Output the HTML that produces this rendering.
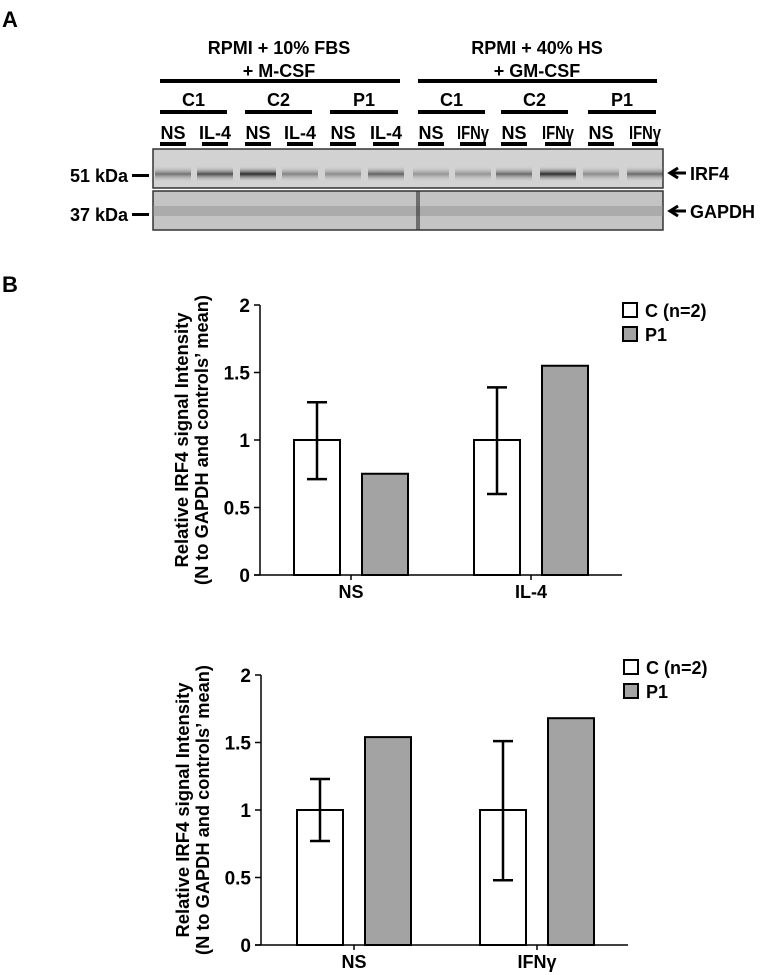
<!DOCTYPE html>
<html><head><meta charset="utf-8">
<style>
html,body{margin:0;padding:0;background:#fff;}
svg{display:block;font-family:"Liberation Sans",Arial,sans-serif;font-weight:bold;}
</style></head>
<body>
<svg id="fig" width="762" height="975" viewBox="0 0 762 975" xmlns="http://www.w3.org/2000/svg">
<defs>
<linearGradient id="band" x1="0" y1="0" x2="0" y2="1">
<stop offset="0" stop-color="#cfcfcf" stop-opacity="0"/>
<stop offset="0.5" stop-color="#222" stop-opacity="1"/>
<stop offset="1" stop-color="#cfcfcf" stop-opacity="0"/>
</linearGradient>
</defs>
<text x="2" y="27" font-size="22">A</text>
<text x="279" y="54" font-size="18" text-anchor="middle">RPMI + 10% FBS</text>
<text x="279" y="77" font-size="18" text-anchor="middle">+ M-CSF</text>
<text x="537" y="54" font-size="18" text-anchor="middle">RPMI + 40% HS</text>
<text x="537" y="77" font-size="18" text-anchor="middle">+ GM-CSF</text>
<rect x="160" y="79" width="240" height="4" fill="#000"/>
<rect x="418" y="79" width="239" height="4" fill="#000"/>
<g id="subgroups"></g>
<g id="lanes"></g>
<rect x="153" y="149" width="510" height="39" fill="#d2d2d2" stroke="#333" stroke-width="1.5"/>
<g id="bands1"></g>
<rect x="153" y="191" width="510" height="39" fill="#c4c4c4" stroke="#333" stroke-width="1.5"/>
<rect x="153" y="206" width="510" height="10" fill="#888" opacity="0.4"/>
<rect x="416" y="191" width="4" height="39" fill="#333" opacity="0.6"/>
<text x="128" y="182" font-size="18" text-anchor="end">51 kDa</text>
<rect x="132" y="174" width="17" height="3" fill="#000"/>
<text x="128" y="221" font-size="18" text-anchor="end">37 kDa</text>
<rect x="132" y="213" width="17" height="3" fill="#000"/>
<path d="M686,173H672M678,168L670,173L678,178" stroke="#000" stroke-width="3" fill="none"/>
<text x="690" y="180" font-size="18">IRF4</text>
<path d="M686,211H672M678,206L670,211L678,216" stroke="#000" stroke-width="3" fill="none"/>
<text x="690" y="218" font-size="18">GAPDH</text>
<text x="2" y="292" font-size="22">B</text>
<g id="chart1"></g>
<g id="chart2"></g>
</svg>
<script>
const NS='http://www.w3.org/2000/svg';
const subLabels=['C1','C2','P1','C1','C2','P1'];
const subX=[[160,227],[245,312],[330,398],[418,485],[501,568],[588,656]];
const laneLabels=['NS','IL-4','NS','IL-4','NS','IL-4','NS','IFNγ','NS','IFNγ','NS','IFNγ'];
const laneX=[173,215,258,300,343,386,431,473,514,558,601,645];
const bandIntensity=[0.55,0.75,0.95,0.45,0.4,0.65,0.35,0.35,0.6,0.95,0.4,0.6];

function mk(tag,attrs,parent,text){const e=document.createElementNS(NS,tag);for(const k in attrs)e.setAttribute(k,attrs[k]);if(text!==undefined)e.textContent=text;parent.appendChild(e);return e;}
const sg=document.getElementById('subgroups');
subLabels.forEach((l,i)=>{
  const t=mk('text',{x:(subX[i][0]+subX[i][1])/2,y:106,'font-size':18,'text-anchor':'middle'},sg,l);
  
  
  const r=mk('rect',{x:subX[i][0],y:110,width:subX[i][1]-subX[i][0],height:4,fill:'#000'},sg);
  
  
});
const lg=document.getElementById('lanes');
laneLabels.forEach((l,i)=>{
  const t=mk('text',{x:laneX[i],y:139,'font-size':18,'text-anchor':'middle','textLength':l.length>2?32:25,'lengthAdjust':'spacingAndGlyphs'},lg,l);
  
  
  const r=mk('rect',{x:laneX[i]-13,y:142,width:26,height:4,fill:'#000'},lg);
  
  
});
const bg=document.getElementById('bands1');
bandIntensity.forEach((v,i)=>{
  const r=mk('rect',{x:laneX[i]-18,y:166,width:36,height:16,fill:'url(#band)',opacity:v},bg);
  
  
});

// chart data
const cats1=['NS','IL-4'];
const ctrl1=[1,1];
const ctrlHi1=[1.28,1.39];
const ctrlLo1=[0.71,0.60];
const p1_1=[0.75,1.55];
const cats2=['NS','IFNγ'];
const ctrl2=[1,1];
const ctrlHi2=[1.23,1.51];
const ctrlLo2=[0.77,0.48];
const p1_2=[1.54,1.68];
const yTicks=[0,0.5,1,1.5,2];
const yTickLabels=['0','0.5','1','1.5','2'];
const legendLabels=['C (n=2)','P1'];

function chart(gid,cfg,cats,ctrl,hi,lo,p1){
  const g=document.getElementById(gid);
  const y=v=>cfg.y0-(v/2)*(cfg.y0-cfg.y2);
  const ax=mk('line',{x1:cfg.ax,y1:cfg.y2,x2:cfg.ax,y2:cfg.y0,stroke:'#000','stroke-width':1.5},g);
  
  
  const xa=mk('line',{x1:cfg.ax-6,y1:cfg.y0,x2:cfg.xend,y2:cfg.y0,stroke:'#000','stroke-width':1.5},g);
  
  
  yTicks.forEach((t,i)=>{
    const l=mk('line',{x1:cfg.ax-6,y1:y(t),x2:cfg.ax,y2:y(t),stroke:'#000','stroke-width':1.5},g);
    
    
    const tx=mk('text',{x:cfg.ax-10,y:y(t)+7,'font-size':19,'text-anchor':'end'},g,yTickLabels[i]);
    
    
  });
  const bw=46;
  cats.forEach((c,i)=>{
    const cx=cfg.centers[i];
    const b1=mk('rect',{x:cx-57,y:y(ctrl[i]),width:bw,height:cfg.y0-y(ctrl[i]),fill:'#fff',stroke:'#000','stroke-width':2},g);
    
    
    const b2=mk('rect',{x:cx+11,y:y(p1[i]),width:bw,height:cfg.y0-y(p1[i]),fill:'#a3a3a3',stroke:'#000','stroke-width':2},g);
    
    
    const ex=cx-34;
    const e=mk('path',{d:`M${ex},${y(hi[i])}V${y(lo[i])}M${ex-10},${y(hi[i])}H${ex+10}M${ex-10},${y(lo[i])}H${ex+10}`,stroke:'#000','stroke-width':2.5,fill:'none'},g);
    
    
    const tk=mk('line',{x1:cx,y1:cfg.y0,x2:cx,y2:cfg.y0+5,stroke:'#000','stroke-width':1.5},g);
    
    
    const lb=mk('text',{x:cx,y:cfg.y0+23,'font-size':18,'text-anchor':'middle'},g,c);
    
    
  });
  const cy=(cfg.y0+cfg.y2)/2;
  const t1=mk('text',{x:0,y:0,'font-size':18,'text-anchor':'middle','textLength':255,'lengthAdjust':'spacingAndGlyphs',transform:`translate(${cfg.ax-72},${cy}) rotate(-90)`},g,'Relative IRF4 signal Intensity');
  
  
  const t2=mk('text',{x:0,y:0,'font-size':18,'text-anchor':'middle','textLength':290,'lengthAdjust':'spacingAndGlyphs',transform:`translate(${cfg.ax-52},${cy}) rotate(-90)`},g,'(N to GAPDH and controls’ mean)');
  
  
  legendLabels.forEach((l,i)=>{
    const r=mk('rect',{x:cfg.lx,y:cfg.ly+i*24,width:14,height:14,fill:i?'#a3a3a3':'#fff',stroke:'#000','stroke-width':2},g);
    
    
    const t=mk('text',{x:cfg.lx+22,y:cfg.ly+i*24+14,'font-size':18},g,l);
    
    
  });
}
chart('chart1',{ax:260,xend:622,y0:575,y2:305,centers:[351,531],lx:623,ly:303},cats1,ctrl1,ctrlHi1,ctrlLo1,p1_1);
chart('chart2',{ax:261,xend:628,y0:945,y2:675,centers:[354,537],lx:624,ly:660},cats2,ctrl2,ctrlHi2,ctrlLo2,p1_2);
</script>
</body></html>
